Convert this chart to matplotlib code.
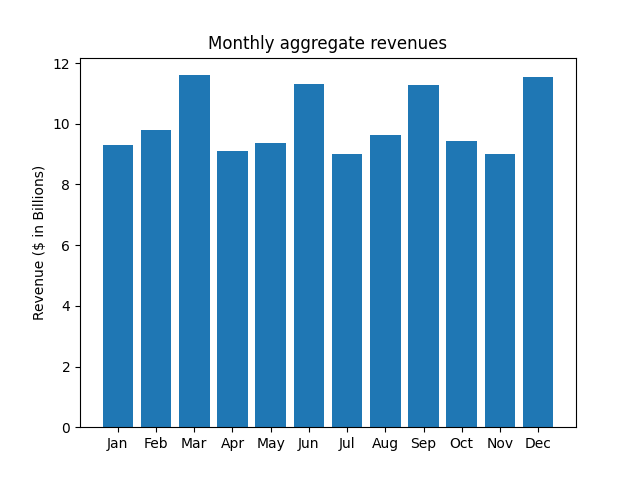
import matplotlib
matplotlib.use('Agg')
import matplotlib.pyplot as plt

months = ['Jan', 'Feb', 'Mar', 'Apr', 'May', 'Jun', 'Jul', 'Aug', 'Sep', 'Oct', 'Nov', 'Dec']
revenues = [9.30, 9.79, 11.60, 9.10, 9.36, 11.31, 9.00, 9.63, 11.28, 9.43, 9.00, 11.54]

fig, ax = plt.subplots(figsize=(6.4, 4.8), dpi=100)
ax.bar(months, revenues)
ax.set_title('Monthly aggregate revenues')
ax.set_ylabel('Revenue ($ in Billions)')
plt.savefig('out.png')
